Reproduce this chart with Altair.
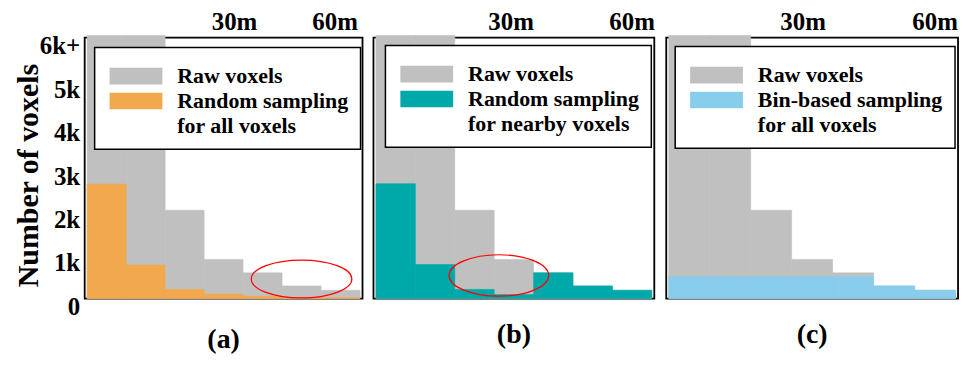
import altair as alt
import pandas as pd

FONT = "Liberation Serif"

# ---- data ----
bins = [0, 1, 2, 3, 4, 5, 6]                      # distance bins (bin index)
raw_voxels = [6050, 6050, 2030, 900, 590, 290, 190]
random_all = [2630, 770, 210, 100, 50, 20, 20]
random_nearby = [2640, 780, 210, 90, 590, 290, 190]
bin_based = [500, 500, 500, 500, 500, 290, 190]

y_ticks = [0, 1000, 2000, 3000, 4000, 5000, 6000]
y_tick_labels = ["0", "1k", "2k", "3k", "4k", "5k", "6k+"]

top_labels = ["30m", "60m"]
top_pos_a = [3.78, 6.36]
top_pos_b = [3.43, 6.5]
top_pos_c = [3.28, 6.5]

ellipse_a = {"x": [5.5], "y": [450]}
ellipse_b = {"x": [3.12], "y": [530]}

GRAY = "#C0C0C0"
ORANGE = "#F2A84C"
TEAL = "#00A9A9"
SKY = "#88CDEB"

RECT_PATH = "M-1,-0.32H1V0.32H-1Z"

label_expr = "".join(
    f"datum.value == {v} ? '{l}' : " for v, l in zip(y_ticks, y_tick_labels)
) + "''"

HEIGHT = 262


def ellipse_path(ratio):
    return (f"M-1,0A1,{ratio},0,1,1,1,0A1,{ratio},0,1,1,-1,0Z")


def panel(sample, color, label1, label2, title, width, top_pos, lx, ly,
          ellipse=None, ell_ratio=0.38, ell_width=100, show_y=False,
          title_offset=22):
    df = pd.DataFrame({
        "lo": bins + bins,
        "hi": [b + 1 for b in bins] * 2,
        "count": raw_voxels + sample,
        "series": ["Raw voxels"] * len(bins) + [label1] * len(bins),
    })
    xscale = alt.Scale(domain=[0, 7], padding=2.5, nice=False, zero=False)
    yscale = alt.Scale(domain=[0, 6000], nice=False, zero=True)
    cscale = alt.Scale(domain=["Raw voxels", label1, label2],
                       range=[GRAY, color, "rgba(0,0,0,0)"])
    if show_y:
        yaxis = alt.Axis(
            values=y_ticks, labelExpr=label_expr, ticks=False, domain=False,
            grid=False, labelFont=FONT, labelFontSize=25,
            labelFontWeight="bold", labelColor="black", labelPadding=5,
            labelBaseline="middle", labelOffset=8,
            title="Number of voxels", titleFont=FONT, titleFontSize=30,
            titleFontWeight="bold", titleColor="black", titleAngle=-90,
            titleX=-47, titleY=138, titleAlign="center",
            titleBaseline="alphabetic",
        )
    else:
        yaxis = None

    bars = alt.Chart(df).mark_bar(strokeWidth=0.6).encode(
        x=alt.X("lo:Q", scale=xscale, axis=None),
        x2="hi:Q",
        y=alt.Y("count:Q", stack=None, scale=yscale, axis=yaxis),
        y2=alt.datum(0),
        stroke=alt.Stroke("series:N", scale=cscale, legend=None),
        color=alt.Color(
            "series:N",
            scale=cscale,
            legend=alt.Legend(
                orient="none", legendX=lx, legendY=ly, title=" ",
                titleFontSize=1, titlePadding=7,
                symbolType=RECT_PATH, symbolSize=2809, symbolStrokeWidth=0,
                symbolOpacity=1, symbolOffset=3,
                labelFont=FONT, labelFontSize=22,
                labelFontWeight="bold", labelColor="black", labelOffset=15,
                padding=12, rowPadding=2, clipHeight=17,
                strokeColor="black", fillColor="white", labelLimit=0,
            ),
        ),
    )

    tops = alt.Chart(pd.DataFrame({"pos": top_pos, "text": top_labels})).mark_text(
        font=FONT, fontSize=25, fontWeight="bold", baseline="alphabetic",
        align="center", color="black",
    ).encode(
        x=alt.X("pos:Q", scale=xscale, axis=None),
        y=alt.value(-8),
        text="text:N",
    )

    layers = [bars, tops]
    if ellipse is not None:
        ell = alt.Chart(pd.DataFrame(ellipse)).mark_point(
            shape=ellipse_path(ell_ratio), size=ell_width ** 2, filled=False,
            color="red", strokeWidth=1.2, opacity=1,
        ).encode(
            x=alt.X("x:Q", scale=xscale, axis=None),
            y=alt.Y("y:Q", scale=yscale, axis=yaxis),
        )
        layers.append(ell)

    return alt.layer(*layers).properties(
        width=width, height=HEIGHT,
        title=alt.TitleParams(title, orient="bottom", font=FONT, fontSize=28,
                              fontWeight="bold", color="black",
                              offset=title_offset, frame="group",
                              anchor="middle", baseline="top"),
    )


pa = panel(random_all, ORANGE, "Random sampling", "for all voxels", "(a)",
           279, top_pos_a, 10, 10, ellipse_a, 0.376, 101, show_y=True,
           title_offset=7)
pb = panel(random_nearby, TEAL, "Random sampling", "for nearby voxels", "(b)",
           282, top_pos_b, 12, 8, ellipse_b, 0.416, 100)
pc = panel(bin_based, SKY, "Bin-based sampling", "for all voxels", "(c)",
           293, top_pos_c, 9, 9)

chart = alt.hconcat(pa, pb, pc, spacing=9).resolve_scale(
    x="independent", y="independent", color="independent",
    stroke="independent",
).resolve_legend(color="independent").properties(
    padding={"left": 5, "top": 0, "right": 5, "bottom": 5}
).configure_view(
    stroke="black", strokeWidth=1.8
).configure_legend(strokeWidth=1.5)

chart.save("out.html", embed_options={"renderer": "svg", "actions": False})
